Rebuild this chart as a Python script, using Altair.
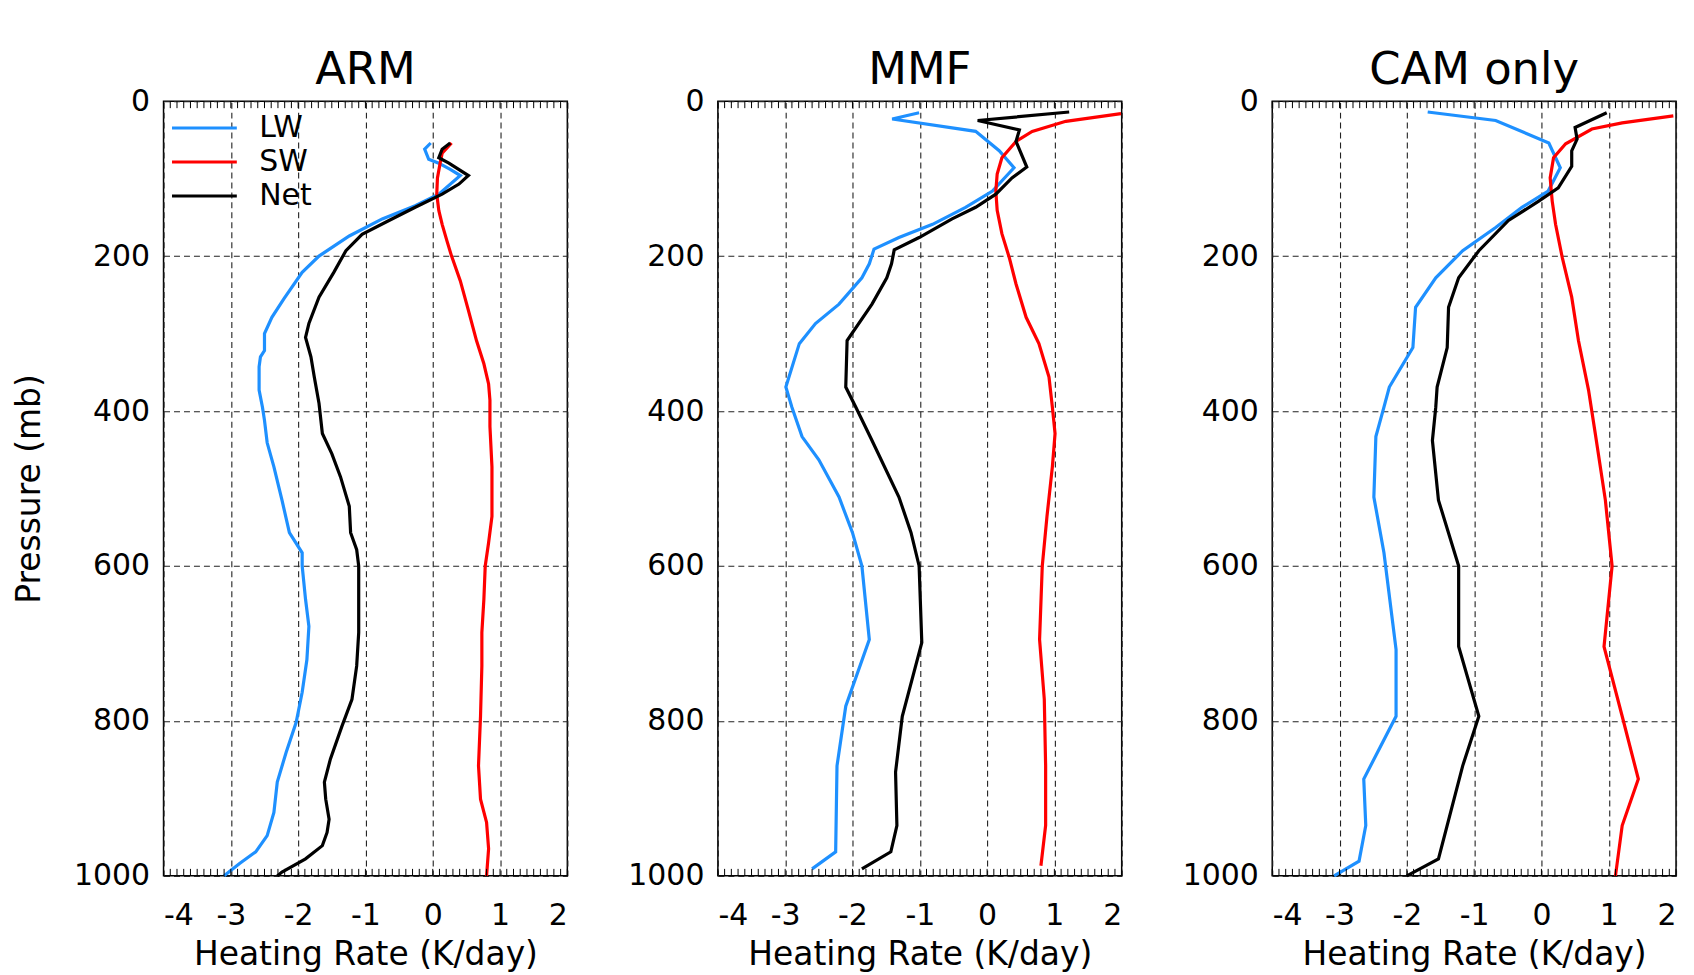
import altair as alt
import pandas as pd

PANELS = ["ARM", "MMF", "CAM only"]
SERIES = ["LW", "SW", "Net"]
COLORS = ["#1E90FF", "#FF0000", "#000000"]
X_TICKS = [-4, -3, -2, -1, 0, 1, 2]
Y_TICKS = [0, 200, 400, 600, 800, 1000]

# ---- ARM ----
arm_lw_p = [54, 62, 75, 80, 88, 96, 120, 135, 152, 174, 200, 221, 255, 279, 300, 322, 330, 343, 373, 395,
            412, 441, 472, 515, 557, 583, 600, 643, 678, 721, 763, 802, 841, 879, 918, 948, 969, 984, 1000]
arm_lw_x = [-0.03, -0.12, -0.06, 0.09, 0.26, 0.41, 0.09, -0.26, -0.75, -1.24, -1.69, -1.94, -2.21, -2.39, -2.50,
            -2.50, -2.56, -2.58, -2.58, -2.53, -2.50, -2.46, -2.36, -2.24, -2.13, -1.94, -1.94, -1.89, -1.84,
            -1.87, -1.94, -2.03, -2.18, -2.31, -2.36, -2.46, -2.63, -2.87, -3.10]
arm_sw_p = [54, 67, 80, 99, 120, 141, 159, 180, 200, 232, 270, 309, 339, 365, 386, 420, 472, 536, 570, 600,
            643, 686, 729, 794, 858, 901, 931, 965, 1000]
arm_sw_x = [0.28, 0.14, 0.11, 0.07, 0.06, 0.09, 0.14, 0.21, 0.28, 0.41, 0.53, 0.65, 0.76, 0.83, 0.85, 0.85,
            0.88, 0.88, 0.83, 0.78, 0.76, 0.73, 0.73, 0.71, 0.68, 0.71, 0.80, 0.83, 0.80]
arm_net_p = [54, 62, 73, 80, 96, 107, 120, 137, 154, 172, 193, 221, 253, 287, 305, 330, 356, 390, 429, 455,
             485, 523, 557, 579, 600, 648, 686, 729, 772, 807, 849, 879, 901, 927, 944, 961, 978, 995, 1000]
arm_net_x = [0.26, 0.14, 0.09, 0.24, 0.53, 0.39, 0.14, -0.26, -0.65, -1.05, -1.29, -1.47, -1.69, -1.84, -1.89,
             -1.81, -1.76, -1.69, -1.64, -1.50, -1.37, -1.24, -1.22, -1.13, -1.10, -1.10, -1.10, -1.13, -1.20,
             -1.35, -1.52, -1.61, -1.59, -1.54, -1.57, -1.64, -1.89, -2.24, -2.31]

# ---- MMF ----
mmf_lw_p = [15, 23, 39, 64, 86, 116, 137, 159, 176, 191, 210, 228, 262, 287, 313, 369, 395, 433, 463, 511,
            557, 600, 695, 781, 858, 969, 991]
mmf_lw_x = [-1.01, -1.41, -0.17, 0.18, 0.40, 0.08, -0.32, -0.81, -1.31, -1.68, -1.75, -1.86, -2.20, -2.55,
            -2.79, -2.99, -2.90, -2.75, -2.50, -2.20, -2.00, -1.86, -1.75, -2.10, -2.23, -2.25, -2.60]
mmf_sw_p = [16, 26, 39, 52, 73, 94, 116, 141, 171, 202, 236, 279, 313, 356, 395, 429, 472, 536, 600, 695,
            772, 858, 935, 987]
mmf_sw_x = [1.99, 1.17, 0.67, 0.43, 0.22, 0.15, 0.13, 0.15, 0.22, 0.33, 0.43, 0.58, 0.77, 0.92, 0.97, 1.01,
            0.97, 0.89, 0.82, 0.78, 0.85, 0.87, 0.87, 0.80]
mmf_net_p = [14, 25, 37, 52, 85, 99, 120, 137, 152, 176, 192, 210, 228, 262, 309, 369, 395, 438, 511, 557,
             600, 699, 794, 866, 935, 969, 991]
mmf_net_x = [1.22, -0.14, 0.48, 0.43, 0.59, 0.37, 0.13, -0.17, -0.52, -1.01, -1.38, -1.42, -1.49, -1.71,
             -2.08, -2.10, -1.95, -1.71, -1.31, -1.13, -1.01, -0.97, -1.26, -1.36, -1.34, -1.43, -1.86]

# ---- CAM only ----
cam_lw_p = [14, 25, 54, 86, 116, 137, 163, 193, 228, 266, 318, 369, 395, 433, 511, 583, 708, 794, 875, 935,
            981, 1000]
cam_lw_x = [-1.69, -0.68, 0.11, 0.28, 0.10, -0.29, -0.68, -1.17, -1.57, -1.87, -1.91, -2.26, -2.34, -2.46,
            -2.49, -2.34, -2.16, -2.16, -2.64, -2.61, -2.71, -3.08]
cam_sw_p = [19, 28, 36, 55, 73, 99, 129, 159, 202, 253, 309, 373, 429, 515, 600, 704, 794, 875, 935, 1000]
cam_sw_x = [1.96, 1.20, 0.75, 0.36, 0.18, 0.13, 0.16, 0.21, 0.31, 0.45, 0.55, 0.70, 0.80, 0.95, 1.05, 0.93,
            1.20, 1.44, 1.20, 1.10]
cam_net_p = [15, 34, 49, 64, 84, 112, 129, 154, 193, 228, 266, 318, 369, 395, 438, 515, 600, 704, 794, 858,
             978, 1000]
cam_net_x = [0.97, 0.50, 0.53, 0.45, 0.45, 0.25, -0.04, -0.49, -0.93, -1.23, -1.38, -1.40, -1.55, -1.57,
             -1.62, -1.53, -1.23, -1.23, -0.93, -1.17, -1.53, -2.00]

PANEL_DATA = {
    "ARM": {"LW": (arm_lw_p, arm_lw_x), "SW": (arm_sw_p, arm_sw_x), "Net": (arm_net_p, arm_net_x)},
    "MMF": {"LW": (mmf_lw_p, mmf_lw_x), "SW": (mmf_sw_p, mmf_sw_x), "Net": (mmf_net_p, mmf_net_x)},
    "CAM only": {"LW": (cam_lw_p, cam_lw_x), "SW": (cam_sw_p, cam_sw_x), "Net": (cam_net_p, cam_net_x)},
}

# minor tick positions along the top/bottom frame (every 0.1 K/day)
MINOR_X = [round(-4 + 0.1 * k, 1) for k in range(61)]

W, H = 405, 777
FONT = "DejaVu Sans"


def make_panel(name, first):
    rows = []
    for s in SERIES:
        ps, xs = PANEL_DATA[name][s]
        for i, (p, x) in enumerate(zip(ps, xs)):
            rows.append({"series": s, "p": p, "x": x, "i": i})
    df = pd.DataFrame(rows)

    xscale = alt.Scale(domain=[-4, 2], nice=False, zero=False)
    yscale = alt.Scale(domain=[0, 1000], reverse=True, nice=False, zero=False)

    xaxis = alt.Axis(values=X_TICKS, title="Heating Rate (K/day)", labelExpr="'' + datum.value",
                     grid=True, labelPadding=25, titlePadding=8)
    if first:
        yaxis = alt.Axis(values=Y_TICKS, title="Pressure (mb)", grid=True, labelPadding=14,
                         labelExpr="'' + datum.value", titleFontSize=33,
                         titleX=-134, titleY=H / 2, titleAngle=-90, titleAlign="center",
                         titleBaseline="middle")
        legend = alt.Legend(title=None, orient="none", legendX=26, legendY=12,
                            symbolType="M-4,0H4", symbolSize=264, symbolStrokeWidth=3,
                            labelFont=FONT, labelFontSize=30, labelOffset=40, rowPadding=4,
                            symbolOffset=0, labelColor="black")
    else:
        yaxis = alt.Axis(values=Y_TICKS, title=None, grid=True, labelPadding=14,
                         labelExpr="'' + datum.value")
        legend = None

    lines = alt.Chart(df).mark_line(strokeWidth=3.2).encode(
        x=alt.X("x:Q", scale=xscale, axis=xaxis),
        y=alt.Y("p:Q", scale=yscale, axis=yaxis),
        color=alt.Color("series:N", scale=alt.Scale(domain=SERIES, range=COLORS), legend=legend,
                        sort=SERIES),
        order=alt.Order("i:Q"),
    )

    tdf = pd.DataFrame({"t": MINOR_X})
    bottom_ticks = alt.Chart(tdf).mark_rule(color="black", strokeWidth=1).encode(
        x=alt.X("t:Q", scale=xscale, axis=xaxis),
        y=alt.value(H), y2=alt.value(H - 7),
    )
    top_ticks = alt.Chart(tdf).mark_rule(color="black", strokeWidth=1).encode(
        x=alt.X("t:Q", scale=xscale, axis=xaxis),
        y=alt.value(0), y2=alt.value(7),
    )

    return alt.layer(lines, bottom_ticks, top_ticks).properties(
        width=W, height=H,
        title=alt.TitleParams(name, font=FONT, fontSize=45, fontWeight="normal", color="black",
                              baseline="alphabetic", offset=-43),
    )


chart = alt.hconcat(
    make_panel("ARM", True), make_panel("MMF", False), make_panel("CAM only", False),
    spacing=151, bounds="flush",
).resolve_scale(color="independent").resolve_legend(color="independent").configure_view(
    stroke="black", strokeWidth=1.5
).configure_axis(
    labelFont=FONT, titleFont=FONT, labelFontSize=30, titleFontSize=33, labelColor="black",
    titleColor="black", titleFontWeight="normal", gridColor="#222222", gridDash=[6, 4], gridWidth=1.1,
    gridOpacity=1, ticks=False, tickSize=0, domain=False,
).properties(
    padding={"left": 5, "top": 38, "right": 5, "bottom": 5}, background="white"
)

chart.save("out.html", embed_options={"renderer": "svg", "actions": False})
